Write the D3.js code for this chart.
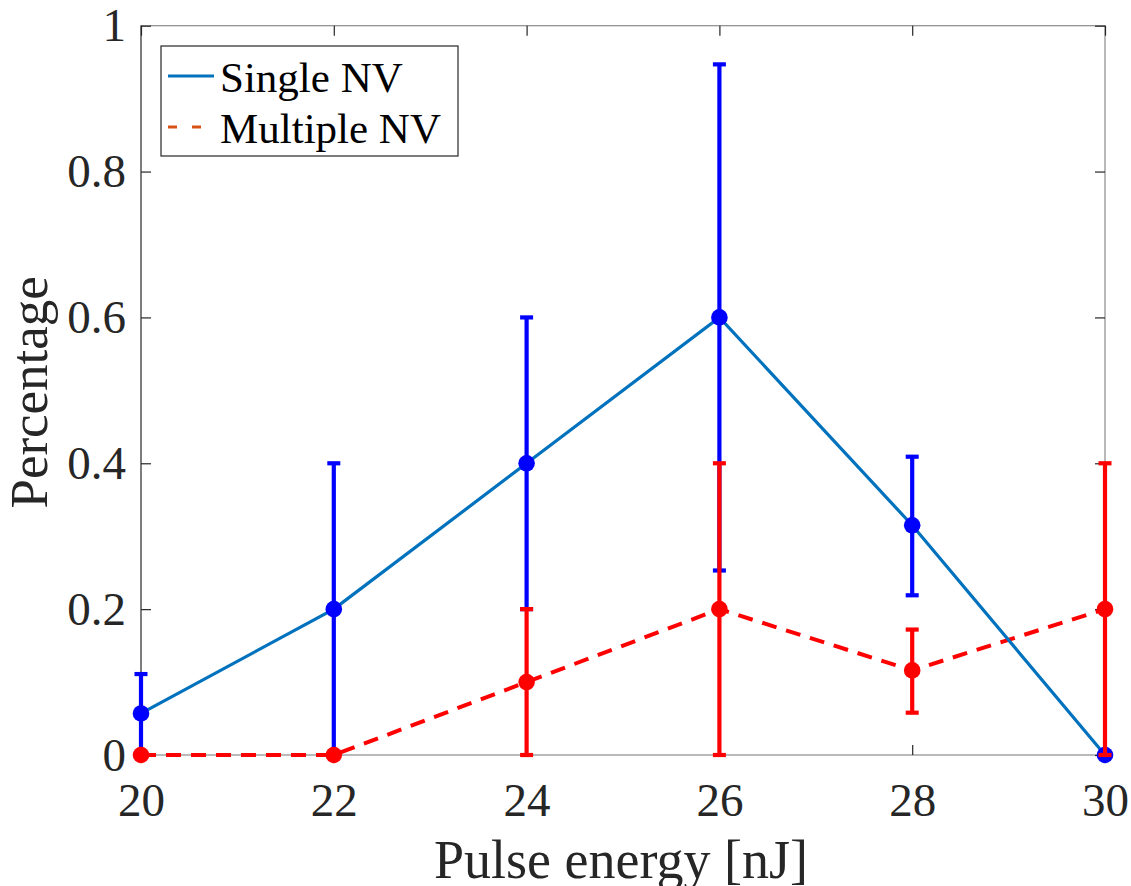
<!DOCTYPE html>
<html>
<head>
<meta charset="utf-8">
<script src="https://cdn.jsdelivr.net/npm/d3@7"></script>
<style>
  html, body { margin: 0; padding: 0; background: #fff; }
  #chart { width: 1131px; height: 886px; }
</style>
</head>
<body>
<div id="chart"></div>
<script>
// pulse energies (nJ)
const energies = [20, 22, 24, 26, 28, 30];
// single NV fraction and error bar ends
const singleNV = [0.057, 0.2, 0.4, 0.6, 0.315, 0];
const singleLow = [0, 0, 0.2, 0.253, 0.219, 0];
const singleHigh = [0.111, 0.4, 0.6, 0.947, 0.409, 0];
// multiple NV fraction and error bar ends
const multiNV = [0, 0, 0.1, 0.2, 0.116, 0.2];
const multiLow = [0, 0, 0, 0, 0.058, 0];
const multiHigh = [0, 0, 0.2, 0.4, 0.172, 0.4];

const xTicks = [20, 22, 24, 26, 28, 30];
const yTicks = [0, 0.2, 0.4, 0.6, 0.8, 1];
const legendLabels = ["Single NV", "Multiple NV"];

(function() {
  const width = 1131, height = 886;
  const margin = { top: 25.7, right: 26, bottom: 131, left: 141 };
  const font = "Liberation Serif, Times New Roman, serif";

  const svg = d3.select("#chart").append("svg")
    .attr("width", width).attr("height", height)
    .attr("viewBox", `0 0 ${width} ${height}`);

  const x = d3.scaleLinear().domain([20, 30]).range([margin.left, width - margin.right]);
  const y = d3.scaleLinear().domain([0, 1]).range([height - margin.bottom, margin.top]);

  const x0 = x.range()[0], x1 = x.range()[1], y0 = y.range()[0], y1 = y.range()[1];

  // box
  svg.append("rect").attr("x", x0).attr("y", y1).attr("width", x1 - x0).attr("height", y0 - y1)
    .attr("fill", "none").attr("stroke", "#8a8a8a").attr("stroke-width", 1.2);
  svg.append("line").attr("x1", x0).attr("x2", x0).attr("y1", y1).attr("y2", y0)
    .attr("stroke", "#555").attr("stroke-width", 1.2);

  // axes with inward ticks
  const axisStyle = g => {
    g.select(".domain").remove();
    g.selectAll(".tick line").attr("stroke", "#262626").attr("stroke-width", 1.2);
    g.selectAll(".tick text").attr("fill", "#262626")
      .attr("font-family", font).attr("font-size", "47px");
  };

  svg.append("g").attr("transform", `translate(0,${y0})`)
    .call(d3.axisBottom(x).tickValues(xTicks).tickSizeInner(-10).tickSizeOuter(0).tickPadding(25))
    .call(axisStyle)
    .call(g => g.selectAll(".tick text").attr("dy", "0.71em").attr("y", 28));
  svg.append("g").attr("transform", `translate(0,${y1})`)
    .call(d3.axisTop(x).tickValues(xTicks).tickSizeInner(-10).tickSizeOuter(0).tickFormat(""))
    .call(axisStyle);
  svg.append("g").attr("transform", `translate(${x0},0)`)
    .call(d3.axisLeft(y).tickValues(yTicks).tickSizeInner(-10).tickSizeOuter(0).tickPadding(15)
      .tickFormat(d3.format("~g")))
    .call(axisStyle)
    .call(g => g.selectAll(".tick text").attr("x", -15));
  svg.append("g").attr("transform", `translate(${x1},0)`)
    .call(d3.axisRight(y).tickValues(yTicks).tickSizeInner(-10).tickSizeOuter(0).tickFormat(""))
    .call(axisStyle);

  // axis labels
  svg.append("text").attr("x", 621).attr("y", 878)
    .attr("text-anchor", "middle").attr("fill", "#262626")
    .attr("font-family", font).attr("font-size", "54px").text("Pulse energy [nJ]");
  svg.append("text").attr("transform", `translate(47,${(y0 + y1) / 2 + 2}) rotate(-90)`)
    .attr("text-anchor", "middle").attr("fill", "#262626")
    .attr("font-family", font).attr("font-size", "53px").text("Percentage");

  const pts = vals => energies.map((e, i) => [x(e), y(vals[i])]);
  const line = d3.line();

  // connecting lines
  svg.append("path").attr("d", line(pts(multiNV)))
    .attr("fill", "none").attr("stroke", "#ff0000").attr("stroke-width", 4)
    .attr("stroke-dasharray", "15,10");
  svg.append("path").attr("d", line(pts(singleNV)))
    .attr("fill", "none").attr("stroke", "#0072BD").attr("stroke-width", 3.2);

  // error bars + markers
  const drawErr = (vals, lo, hi, color) => {
    const g = svg.append("g");
    energies.forEach((e, i) => {
      const cx = x(e);
      g.append("line").attr("x1", cx).attr("x2", cx).attr("y1", y(lo[i])).attr("y2", y(hi[i]))
        .attr("stroke", color).attr("stroke-width", 4.2);
      [lo[i], hi[i]].forEach(v => {
        g.append("line").attr("x1", cx - 6.5).attr("x2", cx + 6.5).attr("y1", y(v)).attr("y2", y(v))
          .attr("stroke", color).attr("stroke-width", 4.2);
      });
      g.append("circle").attr("cx", cx).attr("cy", y(vals[i])).attr("r", 8.3).attr("fill", color);
    });
  };
  drawErr(singleNV, singleLow, singleHigh, "#0000ff");
  drawErr(multiNV, multiLow, multiHigh, "#ff0000");

  // legend
  const lg = svg.append("g");
  lg.append("rect").attr("x", 161).attr("y", 46).attr("width", 297).attr("height", 110)
    .attr("fill", "#fff").attr("stroke", "#262626").attr("stroke-width", 1.2);
  const legendStyles = [
    { color: "#0072BD", dash: null, y: 76 },
    { color: "#D95319", dash: "9,15", y: 127 }
  ];
  legendLabels.forEach((lab, i) => {
    const s = legendStyles[i];
    lg.append("line").attr("x1", 168).attr("x2", 214).attr("y1", s.y).attr("y2", s.y)
      .attr("stroke", s.color).attr("stroke-width", 3.2)
      .attr("stroke-dasharray", s.dash);
    lg.append("text").attr("x", 220).attr("y", s.y + 16)
      .attr("fill", "#000").attr("font-family", font).attr("font-size", "43px").text(lab);
  });
})();
</script>
</body>
</html>
